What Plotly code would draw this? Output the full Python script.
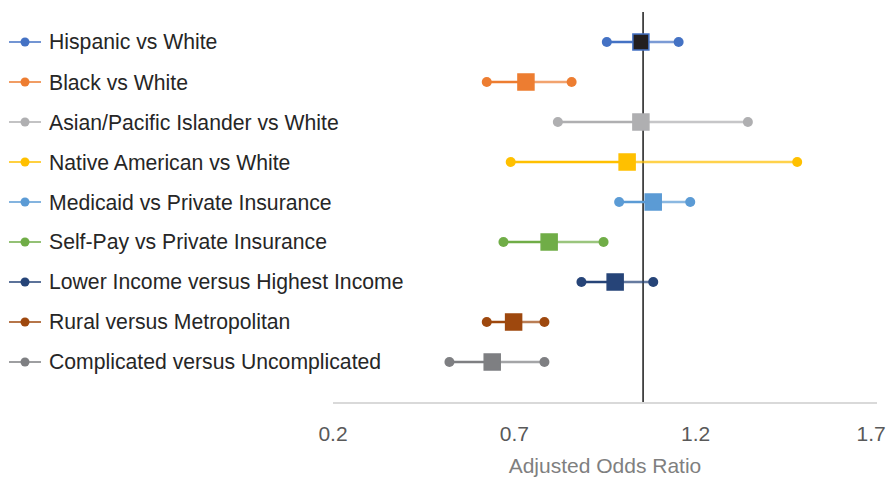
import plotly.graph_objects as go

labels = [
    "Hispanic vs White",
    "Black vs White",
    "Asian/Pacific Islander vs White",
    "Native American vs White",
    "Medicaid vs Private Insurance",
    "Self-Pay vs Private Insurance",
    "Lower Income versus Highest Income",
    "Rural versus Metropolitan",
    "Complicated versus Uncomplicated",
]
odds_ratio = [1.049, 0.732, 1.049, 1.011, 1.083, 0.796, 0.978, 0.698, 0.639]
ci_low = [0.955, 0.624, 0.820, 0.690, 0.989, 0.670, 0.885, 0.624, 0.521]
ci_high = [1.153, 0.858, 1.344, 1.480, 1.185, 0.946, 1.083, 0.783, 0.783]
colors = ["#4472C4", "#ED7D31", "#AFAFB1", "#FFC000", "#5B9BD5",
          "#70AD47", "#264478", "#9E480E", "#7E7F82"]
square_fill = ["#231F20", None, None, None, None, None, None, None, None]
ref_line = 1.055
x_ticks = [0.2, 0.7, 1.2, 1.7]
x_tick_text = ["0.2", "0.7", "1.2", "1.7\u2007"]
legend_line_x = [1, 33]
legend_dot_x = [17]

# the page body adds an 8px offset, so the figure is drawn smaller
W, H = 886, 470
ML, MR, MT, MB = 0, 17, 4, 76
PW = W - ML - MR

fig = go.Figure()

for i, lab in enumerate(labels):
    c = colors[i]
    fig.add_trace(go.Scatter(x=[ci_low[i], odds_ratio[i]], y=[i, i], mode="lines",
                             line=dict(color=c, width=2.5), showlegend=False, hoverinfo="skip"))
    fig.add_trace(go.Scatter(x=[odds_ratio[i], ci_high[i]], y=[i, i], mode="lines",
                             line=dict(color=c, width=2.5), opacity=0.7,
                             showlegend=False, hoverinfo="skip"))
    fig.add_trace(go.Scatter(x=[ci_low[i], ci_high[i]], y=[i, i], mode="markers",
                             marker=dict(color=c, size=10, symbol="circle"),
                             showlegend=False, name=lab))
    fill = square_fill[i] or c
    fig.add_trace(go.Scatter(x=[odds_ratio[i]], y=[i], mode="markers",
                             marker=dict(color=fill, size=16, symbol="square",
                                         line=dict(color=c, width=1.5)),
                             showlegend=False, name=lab))
    fig.add_trace(go.Scatter(x=legend_line_x, y=[i, i], mode="lines",
                             line=dict(color=c, width=1.5), xaxis="x2", yaxis="y",
                             showlegend=False, hoverinfo="skip"))
    fig.add_trace(go.Scatter(x=legend_dot_x, y=[i], mode="markers",
                             marker=dict(color=c, size=9), xaxis="x2", yaxis="y",
                             showlegend=False, hoverinfo="skip"))
    fig.add_annotation(x=39 / PW, xref="paper", y=i, yref="y", text=lab,
                       showarrow=False, xanchor="left", yanchor="middle",
                       font=dict(size=21.2, color="#262626"))

fig.add_shape(type="line", x0=ref_line, x1=ref_line, y0=-0.75, y1=9,
              xref="x", yref="y", line=dict(color="#1A1A1A", width=1.5), layer="below")

fig.update_layout(
    width=W, height=H,
    margin=dict(l=ML, r=MR, t=MT, b=MB, autoexpand=False),
    paper_bgcolor="white", plot_bgcolor="white",
    font=dict(family="Liberation Sans, Arial, sans-serif"),
    xaxis=dict(domain=[325 / PW, 1], range=[0.2, 1.7], tickvals=x_ticks,
               ticktext=x_tick_text, automargin=False, ticklabeloverflow="allow",
               showgrid=False, zeroline=False, showline=True, linecolor="#D9D9D9",
               linewidth=1.5, ticks="", ticklabelstandoff=12,
               tickfont=dict(size=21, color="#595959"),
               title=dict(text="Adjusted Odds Ratio", standoff=14,
                          font=dict(size=21, color="#7F7F7F"))),
    xaxis2=dict(domain=[0, 50 / PW], range=[0, 50], anchor="y", visible=False),
    yaxis=dict(domain=[0, 1], range=[9, -0.75], automargin=False,
               visible=False, showgrid=False, zeroline=False),
)

fig.write_html("out.html")
